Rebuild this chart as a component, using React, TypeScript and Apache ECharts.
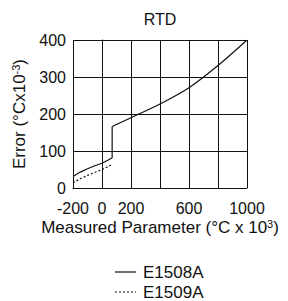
import React, { useEffect, useRef } from "react";
import * as echarts from "echarts";

const xTickLabels = ["-200", "0", "200", "", "600", "", "1000"];
const legendNames = ["E1508A", "E1509A"];
const e1508aLow: [number, number][] = [
  [-200, 31], [-150, 43], [-100, 52], [-50, 60], [0, 67], [40, 75], [70, 82], [70, 166],
];
const e1508aHigh: [number, number][] = [
  [70, 166], [200, 190], [400, 227], [600, 271], [800, 331], [1000, 400],
];
const e1509a: [number, number][] = [
  [-200, 14], [-150, 25], [-100, 34], [-50, 42], [0, 50], [70, 63],
];

const FONT = "'Liberation Sans', Arial, sans-serif";
const INK = "#111";

export default function App() {
  const ref = useRef<HTMLDivElement>(null);
  useEffect(() => {
    if (!ref.current) return;
    const chart = echarts.init(ref.current, null, { renderer: "svg" });
    const legendRows = [
      { y: 272, dash: null as number[] | null },
      { y: 292, dash: [2, 2] },
    ];
    const legendGraphics: any[] = [];
    legendRows.forEach((r, i) => {
      legendGraphics.push({
        type: "line",
        shape: { x1: 115, y1: r.y, x2: 136, y2: r.y },
        style: { stroke: INK, lineWidth: 1.2, lineDash: r.dash || undefined },
      });
      legendGraphics.push({
        type: "text",
        x: 143,
        y: r.y,
        style: {
          text: legendNames[i],
          fontFamily: FONT,
          fontSize: 17,
          fill: INK,
          verticalAlign: "middle",
          align: "left",
        },
      });
    });
    chart.setOption({
      animation: false,
      backgroundColor: "#fff",
      textStyle: { fontFamily: FONT, color: INK },
      title: {
        text: "RTD",
        left: 160,
        textAlign: "center",
        top: 11,
        padding: 0,
        textStyle: { fontFamily: FONT, fontSize: 16, fontWeight: "normal", color: INK },
      },
      grid: { left: 73, right: 41, top: 40, bottom: 113 },
      graphic: legendGraphics,
      xAxis: {
        type: "value",
        min: -200,
        max: 1000,
        interval: 200,
        name: "Measured Parameter (°C x 10{sup|3})",
        nameLocation: "middle",
        nameGap: 30,
        nameTextStyle: {
          fontFamily: FONT,
          fontSize: 17,
          color: INK,
          rich: { sup: { fontFamily: FONT, fontSize: 11, padding: [0, 0, 7, 0], color: INK } },
        },
        axisLine: { show: true, lineStyle: { color: INK, width: 1 } },
        axisTick: { show: false },
        splitLine: { show: true, lineStyle: { color: INK, width: 1 } },
        axisLabel: {
          fontFamily: FONT,
          fontSize: 16,
          color: INK,
          margin: 12,
          formatter: (v: number) => {
            const i = Math.round((v + 200) / 200);
            return xTickLabels[i] ?? "";
          },
        },
      },
      yAxis: {
        type: "value",
        min: 0,
        max: 400,
        interval: 100,
        name: "Error (°Cx10{sup|-3})",
        nameLocation: "middle",
        nameGap: 33,
        nameTextStyle: {
          fontFamily: FONT,
          fontSize: 17,
          color: INK,
          rich: { sup: { fontFamily: FONT, fontSize: 11, padding: [0, 0, 7, 0], color: INK } },
        },
        axisLine: { show: true, lineStyle: { color: INK, width: 1 } },
        axisTick: { show: false },
        splitLine: { show: true, lineStyle: { color: INK, width: 1 } },
        axisLabel: { fontFamily: FONT, fontSize: 16, color: INK, margin: 7 },
      },
      series: [
        {
          name: "E1508A",
          type: "line",
          data: e1508aLow,
          symbol: "none",
          lineStyle: { color: INK, width: 1.2 },
        },
        {
          name: "E1508A",
          type: "line",
          data: e1508aHigh,
          symbol: "none",
          smooth: 0.3,
          lineStyle: { color: INK, width: 1.2 },
        },
        {
          name: "E1509A",
          type: "line",
          data: e1509a,
          symbol: "none",
          lineStyle: { color: INK, width: 1.2, type: [2, 2] },
        },
      ],
    });
    return () => chart.dispose();
  }, []);
  return (
    <div
      ref={ref}
      style={{ position: "fixed", left: 0, top: 0, width: 288, height: 301 }}
    />
  );
}
